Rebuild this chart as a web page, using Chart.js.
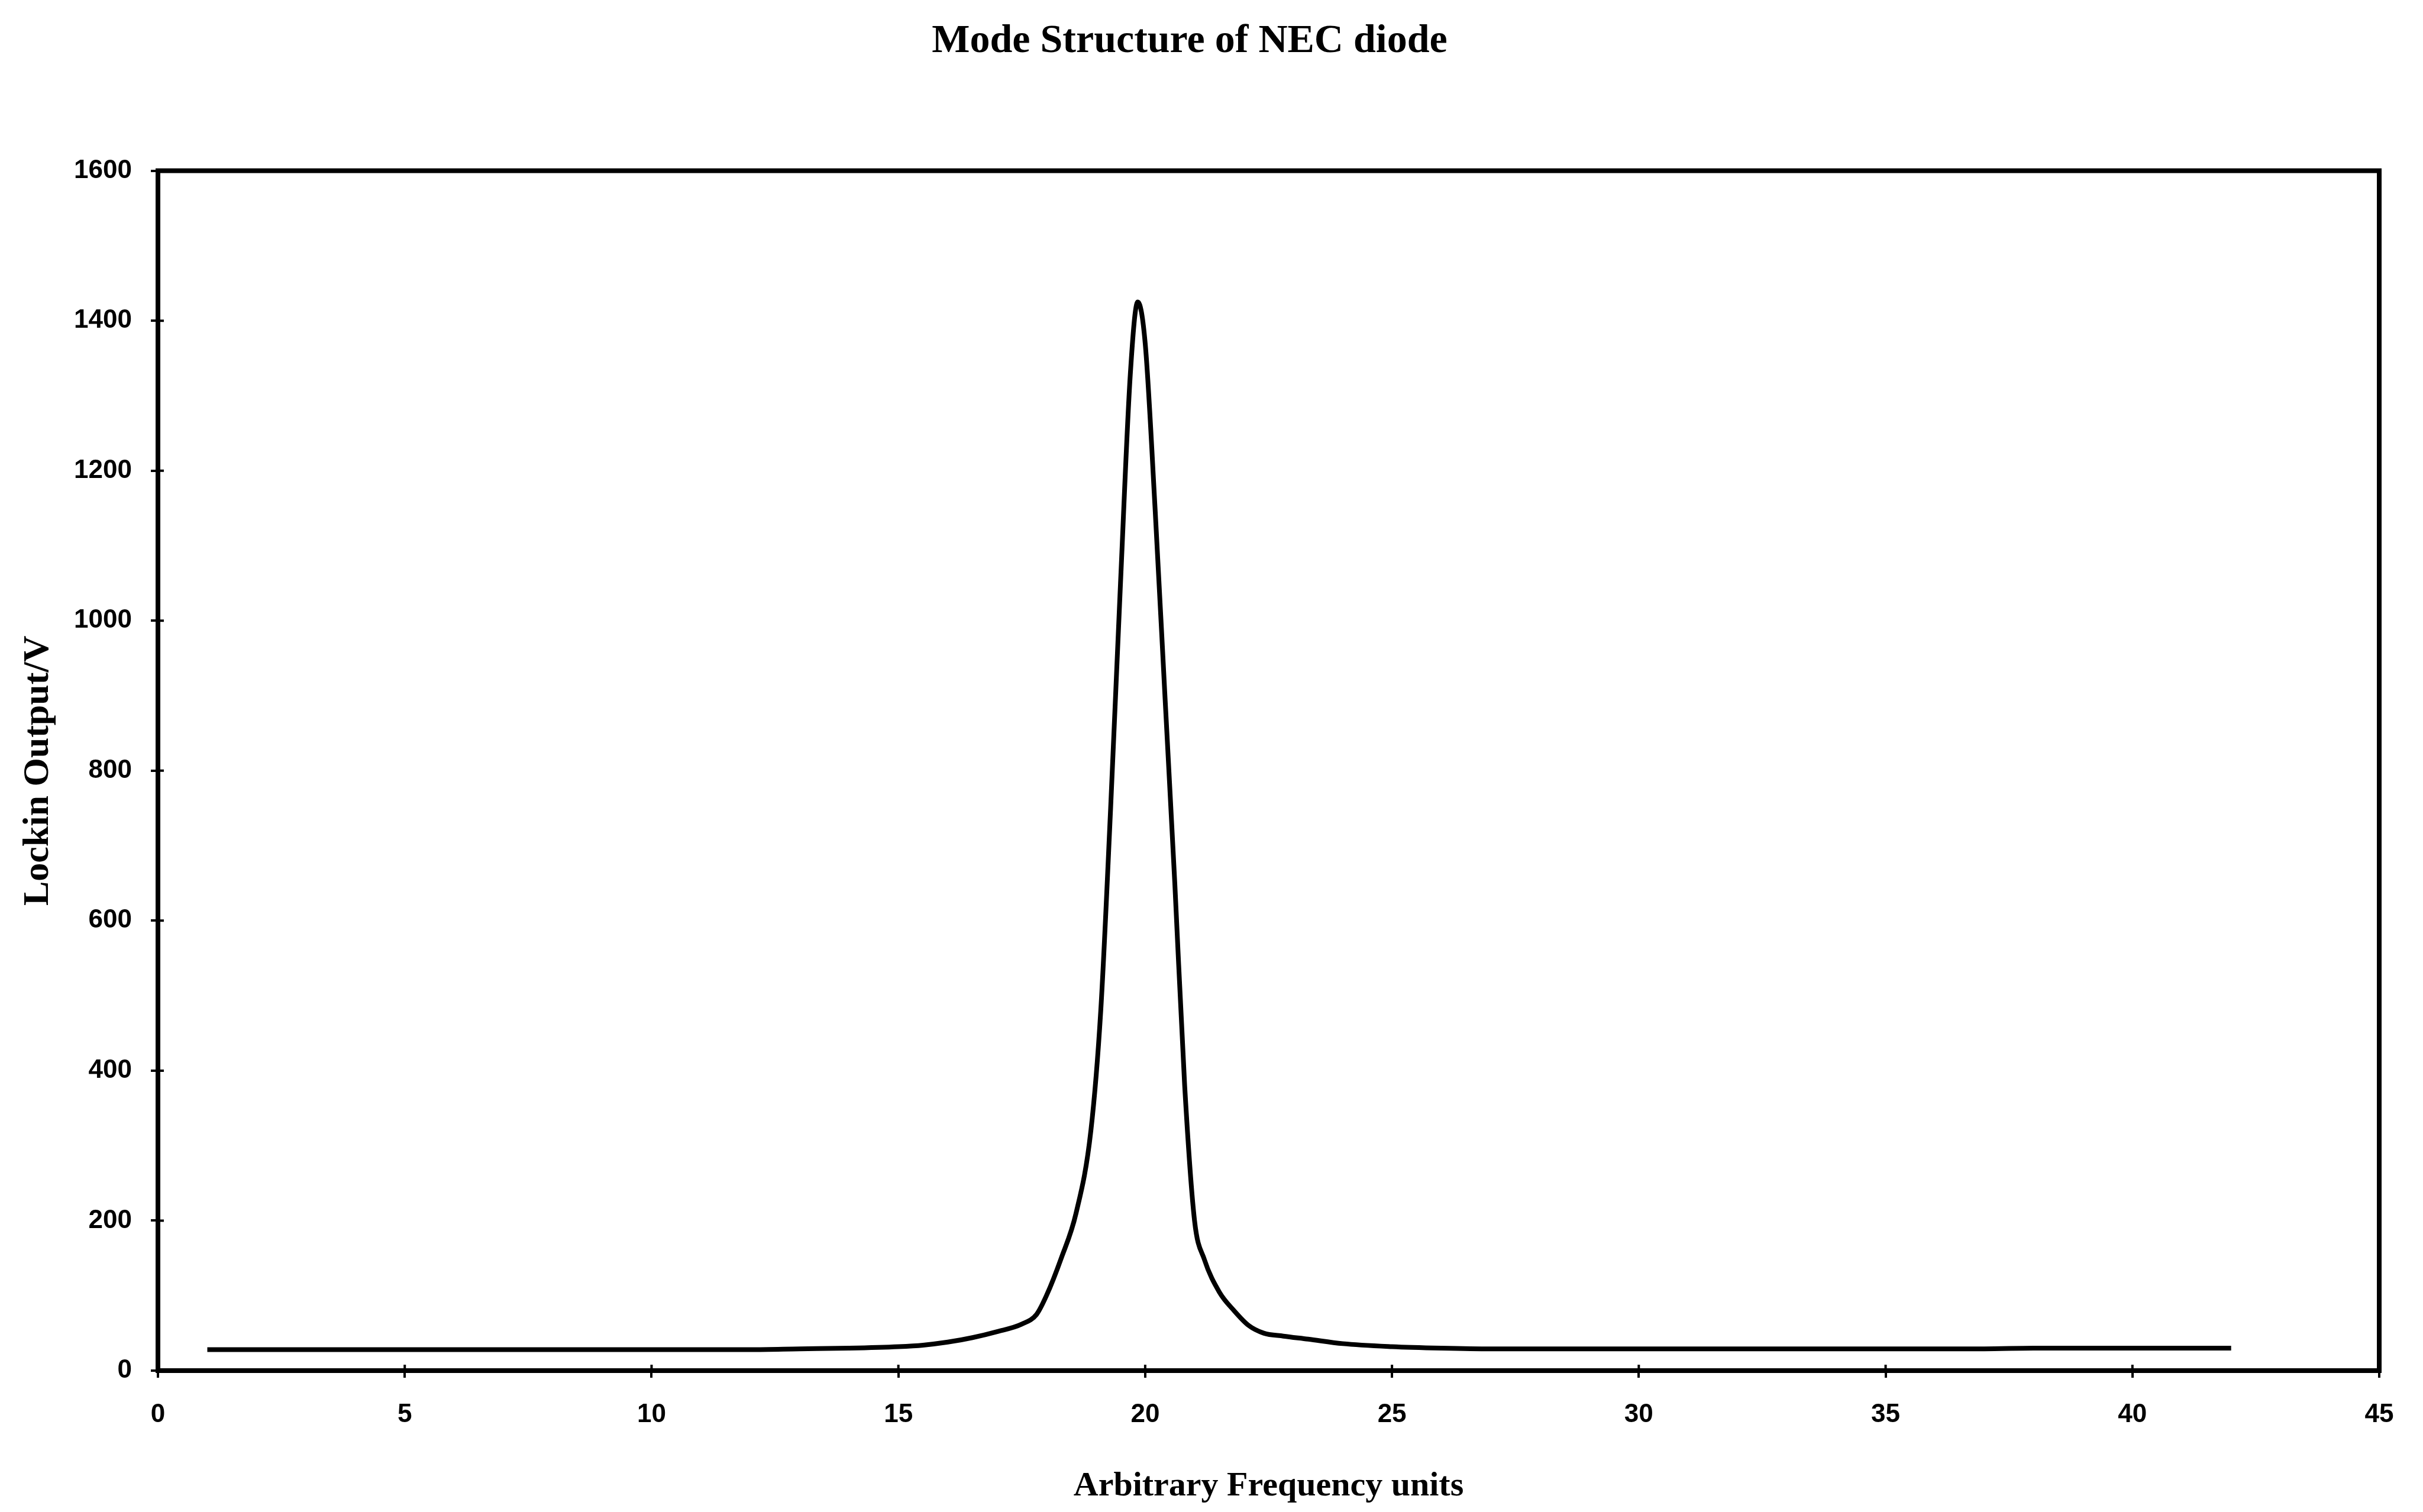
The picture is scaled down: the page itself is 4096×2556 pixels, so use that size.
<!DOCTYPE html>
<html>
<head>
<meta charset="utf-8">
<script src="https://cdn.jsdelivr.net/npm/chart.js@4.4.1/dist/chart.umd.min.js"></script>
<style>
html, body { margin: 0; padding: 0; background: #fff; overflow: hidden; }
canvas { display: block; }
</style>
</head>
<body>
<canvas id="graficoModo" width="4096" height="2556"></canvas>
<script>
// valores
const frequencia = [1, 2, 3, 4, 5, 6, 7, 8, 9, 10, 11, 12, 13, 14, 15, 15.5, 16, 16.5, 17, 17.5, 17.8,
    18, 18.3, 18.6, 18.9, 19.1, 19.3, 19.5, 19.7, 19.85, 20, 20.2, 20.4, 20.6, 20.8, 21, 21.2, 21.5,
    21.8, 22.1, 22.4, 22.8, 23.3, 24, 25, 26, 27, 28, 29, 30, 31, 32, 33, 34, 35, 36, 37, 38, 39, 40, 41, 42];
const saida = [28, 28, 28, 28, 28, 28, 28, 28, 28, 28, 28, 28, 29, 30, 32, 34, 38, 44, 52, 62, 75,
    100, 150, 210, 320, 480, 750, 1050, 1330, 1425, 1370, 1150, 900, 650, 380, 200, 148, 105,
    80, 60, 50, 46, 42, 36, 32, 30, 29, 29, 29, 29, 29, 29, 29, 29, 29, 29, 29, 30, 30, 30, 30, 30];
const ticksX = [0, 5, 10, 15, 20, 25, 30, 35, 40, 45];
const ticksY = [0, 200, 400, 600, 800, 1000, 1200, 1400, 1600];

const pontos = frequencia.map((f, i) => ({ x: f, y: saida[i] }));

// moldura em volta da area do grafico + tracinhos que cruzam o eixo
const moldura = {
    id: 'moldura',
    afterDraw(chart) {
        const a = chart.chartArea;
        const c = chart.ctx;
        c.save();
        c.strokeStyle = '#000';
        c.lineWidth = 8;
        c.strokeRect(a.left, a.top, a.right - a.left, a.bottom - a.top);
        c.lineWidth = 4;
        c.beginPath();
        chart.scales.x.ticks.forEach(t => {
            const px = chart.scales.x.getPixelForValue(t.value);
            c.moveTo(px, a.bottom);
            c.lineTo(px, a.bottom - 10);
        });
        chart.scales.y.ticks.forEach(t => {
            const py = chart.scales.y.getPixelForValue(t.value);
            c.moveTo(a.left, py);
            c.lineTo(a.left + 10, py);
        });
        c.stroke();
        c.restore();
    }
};

const ctx = document.getElementById('graficoModo').getContext('2d');

new Chart(ctx, {
    type: 'line',
    data: {
        datasets: [{
            data: pontos,
            borderColor: '#000',
            borderWidth: 8,
            pointRadius: 0,
            fill: false,
            cubicInterpolationMode: 'monotone'
        }]
    },
    options: {
        responsive: false,
        animation: false,
        devicePixelRatio: 1,
        layout: { padding: { left: 0, right: 74, top: 0, bottom: 0 } },
        plugins: {
            legend: { display: false },
            tooltip: { enabled: false },
            title: {
                display: true,
                text: 'Mode Structure of NEC diode',
                color: '#000',
                font: { family: 'Liberation Serif', size: 68, weight: 'bold', lineHeight: 1.2 },
                padding: { top: 30, bottom: 177 }
            }
        },
        scales: {
            x: {
                type: 'linear',
                min: 0,
                max: 45,
                afterBuildTicks: s => { s.ticks = ticksX.map(v => ({ value: v })); },
                afterFit: s => { s.height = 239; },
                border: { display: true, color: '#000', width: 8 },
                grid: { drawOnChartArea: false, drawTicks: true, tickLength: 12, color: '#000', lineWidth: 4 },
                ticks: {
                    color: '#000',
                    padding: 36,
                    maxRotation: 0,
                    callback: v => String(v),
                    font: { family: 'Liberation Sans', size: 44, weight: 'bold' }
                },
                title: {
                    display: true,
                    text: 'Arbitrary Frequency units',
                    color: '#000',
                    font: { family: 'Liberation Serif', size: 58, weight: 'bold', lineHeight: 1.2 },
                    padding: { top: 0, bottom: 8 }
                }
            },
            y: {
                min: 0,
                max: 1600,
                afterBuildTicks: s => { s.ticks = ticksY.map(v => ({ value: v })); },
                afterFit: s => { s.width = 267; },
                border: { display: true, color: '#000', width: 8 },
                grid: { drawOnChartArea: false, drawTicks: true, tickLength: 12, color: '#000', lineWidth: 4 },
                ticks: {
                    color: '#000',
                    padding: 32,
                    callback: v => String(v),
                    font: { family: 'Liberation Sans', size: 44, weight: 'bold' }
                },
                title: {
                    display: true,
                    text: 'Lockin Output/V',
                    color: '#000',
                    font: { family: 'Liberation Serif', size: 62, weight: 'bold', lineHeight: 1.2 },
                    padding: { top: 28, bottom: 0 }
                }
            }
        }
    },
    plugins: [moldura]
});
</script>
</body>
</html>
